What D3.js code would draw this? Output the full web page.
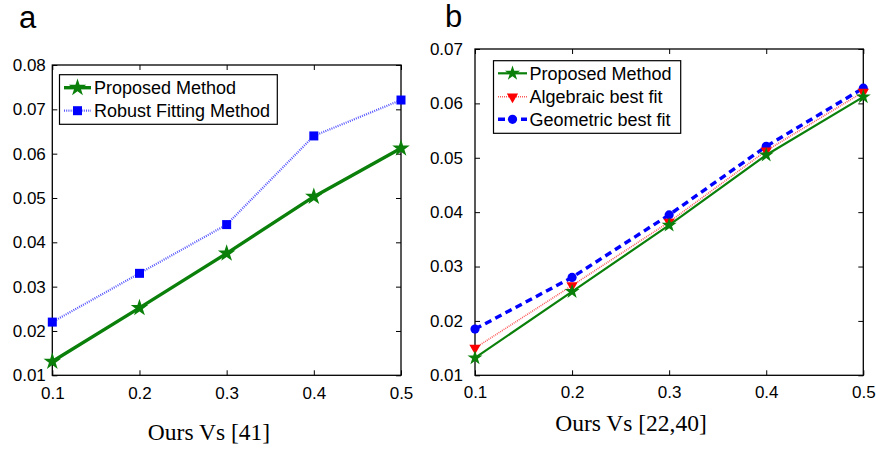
<!DOCTYPE html>
<html>
<head>
<meta charset="utf-8">
<script src="https://cdn.jsdelivr.net/npm/d3@7"></script>
<style>
  html, body { margin: 0; padding: 0; background: #fff; }
  svg { display: block; }
  text { font-family: "Liberation Sans", Arial, sans-serif; fill: #000; }
</style>
</head>
<body>
<svg id="chart" width="876" height="449"></svg>
<script>
// Noise level on the x axis
const noiseLevels = [0.1, 0.2, 0.3, 0.4, 0.5];

// Panel a: ours vs [41]
const aProposed = [0.0131, 0.0252, 0.0375, 0.0503, 0.0612];
const aRobust   = [0.0220, 0.0330, 0.0440, 0.0640, 0.0721];
const aYTicks   = [0.01, 0.02, 0.03, 0.04, 0.05, 0.06, 0.07, 0.08];

// Panel b: ours vs [22,40]
const bProposed  = [0.0132, 0.0254, 0.0376, 0.0505, 0.0612];
const bAlgebraic = [0.0150, 0.0265, 0.0382, 0.0513, 0.0621];
const bGeometric = [0.0185, 0.0280, 0.0395, 0.0521, 0.0628];
const bYTicks    = [0.01, 0.02, 0.03, 0.04, 0.05, 0.06, 0.07];

const seriesNamesA = ["Proposed Method", "Robust Fitting Method"];
const seriesNamesB = ["Proposed Method", "Algebraic best fit", "Geometric best fit"];

const svg = d3.select("#chart");
const SANS = "'Liberation Sans', Arial, sans-serif";
const SERIF = "'Liberation Serif', 'Times New Roman', serif";

const styles = {
  proposedA: { stroke: "#0a800a", width: 3.4, dash: null, marker: "star", fill: "#0a800a", size: 95 },
  robust:    { stroke: "#5555ff", width: 2.2, dash: "1,1.2", marker: "square", fill: "#0000ff", size: 81 },
  proposedB: { stroke: "#0a800a", width: 2.2, dash: null, marker: "star", fill: "#0a800a", size: 70 },
  algebraic: { stroke: "#ff5a5a", width: 1.6, dash: "1,1", marker: "triangle", fill: "#ff0000", size: 55 },
  geometric: { stroke: "#0000ff", width: 3.4, dash: "7,4.5", marker: "circle", fill: "#0000ff", size: 66 }
};

function symbolFor(s) {
  const type = { star: d3.symbolStar, square: d3.symbolSquare, triangle: d3.symbolTriangle, circle: d3.symbolCircle }[s.marker];
  return d3.symbol().type(type).size(s.size)();
}

function drawMarker(g, x, y, s) {
  const rot = s.marker === "triangle" ? " rotate(180)" : "";
  g.append("path")
    .attr("d", symbolFor(s))
    .attr("transform", `translate(${x},${y})${rot}`)
    .attr("fill", s.fill)
    .attr("stroke", "none");
}

function panel(opts) {
  const { x0, x1, yTop, yBot, yDomain, yTicks, yPad, xPad, series, legend, letter, title } = opts;
  const x = d3.scaleLinear().domain([0.1, 0.5]).range([x0, x1]);
  const y = d3.scaleLinear().domain(yDomain).range([yBot, yTop]);
  const g = svg.append("g");

  // inward ticks on all four sides
  const tick = 5;
  g.append("g").attr("transform", `translate(0,${yBot})`)
    .call(d3.axisBottom(x).tickValues(noiseLevels).tickFormat(d3.format(".1f"))
      .tickSizeInner(-tick).tickSizeOuter(0).tickPadding(xPad));
  g.append("g").attr("transform", `translate(0,${yTop})`)
    .call(d3.axisTop(x).tickValues(noiseLevels).tickFormat("")
      .tickSizeInner(-tick).tickSizeOuter(0));
  g.append("g").attr("transform", `translate(${x0},0)`)
    .call(d3.axisLeft(y).tickValues(yTicks).tickFormat(d3.format(".2f"))
      .tickSizeInner(-tick).tickSizeOuter(0).tickPadding(yPad));
  g.append("g").attr("transform", `translate(${x1},0)`)
    .call(d3.axisRight(y).tickValues(yTicks).tickFormat("")
      .tickSizeInner(-tick).tickSizeOuter(0));
  g.selectAll(".domain").remove();
  g.selectAll(".tick line").attr("stroke", "#000").attr("stroke-width", 1);
  g.selectAll(".tick text").attr("font-size", 17).attr("font-family", SANS).attr("fill", "#000");

  g.append("rect")
    .attr("x", x0).attr("y", yTop).attr("width", x1 - x0).attr("height", yBot - yTop)
    .attr("fill", "none").attr("stroke", "#000").attr("stroke-width", 1.3);

  // series lines, drawn bottom-up so the proposed method sits on top
  const line = d3.line().x((d, i) => x(noiseLevels[i])).y(d => y(d));
  series.slice().reverse().forEach(s => {
    g.append("path").datum(s.values)
      .attr("d", line)
      .attr("fill", "none")
      .attr("stroke", s.style.stroke)
      .attr("stroke-width", s.style.width)
      .attr("stroke-dasharray", s.style.dash)
      .attr("stroke-linejoin", "round");
    s.values.forEach((v, i) => drawMarker(g, x(noiseLevels[i]), y(v), s.style));
  });

  // legend
  const lg = g.append("g");
  lg.append("rect")
    .attr("x", legend.x).attr("y", legend.y).attr("width", legend.w).attr("height", legend.h)
    .attr("fill", "#fff").attr("stroke", "#000").attr("stroke-width", 1.2);
  series.forEach((s, i) => {
    const ry = legend.rowY[i];
    lg.append("line")
      .attr("x1", legend.lx0).attr("x2", legend.lx1).attr("y1", ry).attr("y2", ry)
      .attr("stroke", s.style.stroke).attr("stroke-width", s.style.width)
      .attr("stroke-dasharray", s.style.dash);
    drawMarker(lg, (legend.lx0 + legend.lx1) / 2, ry, s.style);
    lg.append("text")
      .attr("x", legend.tx).attr("y", ry).attr("dy", "0.36em")
      .attr("font-family", SANS)
      .attr("font-size", 18)
      .text(s.name);
  });

  svg.append("text").attr("x", letter.x).attr("y", letter.y)
    .attr("font-family", SANS)
    .attr("font-size", 31).text(letter.text);

  svg.append("text").attr("x", title.x).attr("y", title.y)
    .attr("text-anchor", "middle")
    .attr("font-size", 23.5)
    .style("font-family", SERIF)
    .text(title.text);
}

panel({
  x0: 52.3, x1: 401, yTop: 65, yBot: 375.3,
  yDomain: [0.01, 0.08], yTicks: aYTicks, yPad: 6.5, xPad: 12,
  series: [
    { name: seriesNamesA[0], values: aProposed, style: styles.proposedA },
    { name: seriesNamesA[1], values: aRobust, style: styles.robust }
  ],
  legend: { x: 59.5, y: 74.7, w: 217.8, h: 49.6, rowY: [87.7, 110.7], lx0: 64, lx1: 91, tx: 94 },
  letter: { x: 19, y: 27.5, text: "a" },
  title: { x: 209, y: 439.5, text: "Ours Vs [41]" }
});

panel({
  x0: 475, x1: 863.3, yTop: 49, yBot: 375.3,
  yDomain: [0.01, 0.07], yTicks: bYTicks, yPad: 12, xPad: 11,
  series: [
    { name: seriesNamesB[0], values: bProposed, style: styles.proposedB },
    { name: seriesNamesB[1], values: bAlgebraic, style: styles.algebraic },
    { name: seriesNamesB[2], values: bGeometric, style: styles.geometric }
  ],
  legend: { x: 493.5, y: 60.7, w: 187.2, h: 72.6, rowY: [73.3, 96.7, 119.3], lx0: 498, lx1: 527, tx: 529.5 },
  letter: { x: 445, y: 26.5, text: "b" },
  title: { x: 631, y: 431, text: "Ours Vs [22,40]" }
});
</script>
</body>
</html>
